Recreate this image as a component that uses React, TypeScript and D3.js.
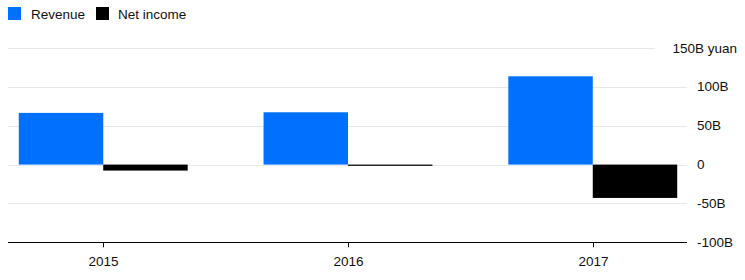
import React from "react";
import * as d3 from "d3";

const years = ["2015", "2016", "2017"];
const revenue = [66.5, 67.3, 113.6];
const netIncome = [-7.7, -1.6, -42.9];
const yTicks = [150, 100, 50, 0, -50, -100];
const tickLabel = (v: number) => (v === 0 ? "0" : v === 150 ? "150B yuan" : `${v}B`);

const W = 745;
const H = 280;
const BLUE = "#0070ff";

export default function App() {
  const x = d3.scaleBand<string>().domain(years).range([9, 687]).paddingInner(0.31).paddingOuter(0.04);
  const sub = d3.scaleBand<string>().domain(["rev", "net"]).range([0, x.bandwidth()]);
  const y = d3.scaleLinear().domain([-100, 150]).range([242.3, 48]);
  const font = "'Liberation Sans', Arial, sans-serif";
  const fs = 13.5;

  return (
    <div style={{ position: "absolute", left: 0, top: 0 }}>
      <svg width={W} height={H} style={{ display: "block", fontFamily: font }}>
        {/* legend */}
        <rect x={8} y={7} width={13} height={13} fill={BLUE} />
        <text x={31} y={19} fontSize={fs} fill="#111">Revenue</text>
        <rect x={96} y={7} width={13} height={13} fill="#000" />
        <text x={118} y={19} fontSize={fs} fill="#111">Net income</text>

        {/* gridlines */}
        {yTicks.filter((t) => t !== -100).map((t) => (
          <line
            key={t}
            x1={8}
            x2={t === 150 ? 655 : 687}
            y1={Math.round(y(t)) + 0.5}
            y2={Math.round(y(t)) + 0.5}
            stroke="#e8e8e8"
            strokeWidth={1}
          />
        ))}

        {/* bars */}
        {years.map((yr, i) => {
          const x0 = x(yr)!;
          const r = revenue[i];
          const n = netIncome[i];
          return (
            <g key={yr}>
              <rect
                x={x0 + sub("rev")!}
                width={sub.bandwidth()}
                y={y(Math.max(0, r))}
                height={Math.abs(y(r) - y(0))}
                fill={BLUE}
              />
              <rect
                x={x0 + sub("net")!}
                width={sub.bandwidth()}
                y={y(Math.max(0, n))}
                height={Math.abs(y(n) - y(0))}
                fill="#000"
              />
            </g>
          );
        })}

        {/* axis */}
        <line x1={8} x2={687} y1={Math.round(y(-100)) + 0.5} y2={Math.round(y(-100)) + 0.5} stroke="#000" strokeWidth={1} />
        {years.map((yr) => {
          const cx = Math.round(x(yr)! + x.bandwidth() / 2) + 0.5;
          return (
            <g key={yr}>
              <line x1={cx} x2={cx} y1={y(-100)} y2={y(-100) + 5} stroke="#000" strokeWidth={1} />
              <text x={cx} y={266} fontSize={fs} textAnchor="middle" fill="#111">{yr}</text>
            </g>
          );
        })}

        {/* y labels */}
        {yTicks.map((t) => (
          <text
            key={t}
            x={t === 150 ? 737 : 697}
            y={y(t) + 4.5}
            fontSize={fs}
            textAnchor={t === 150 ? "end" : "start"}
            fill="#111"
          >
            {tickLabel(t)}
          </text>
        ))}
      </svg>
    </div>
  );
}
